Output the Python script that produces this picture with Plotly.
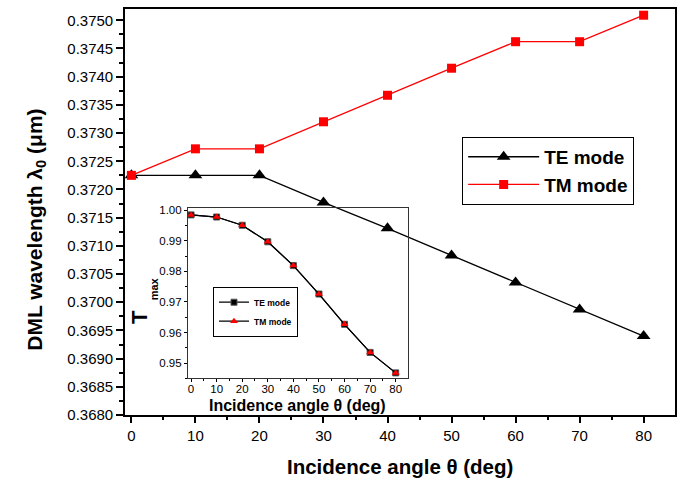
import plotly.graph_objects as go

# Incidence angles (deg)
angles = [0, 10, 20, 30, 40, 50, 60, 70, 80]

# DML wavelength lambda_0 (um) for each polarisation
te_wavelength = [0.37225, 0.37225, 0.37225, 0.37177, 0.37131, 0.37083, 0.37035, 0.36987, 0.36940]
tm_wavelength = [0.37225, 0.37272, 0.37272, 0.37320, 0.37367, 0.37415, 0.37462, 0.37462, 0.37509]

# Peak transmission T_max (identical for TE and TM)
te_tmax = [0.9985, 0.9978, 0.9951, 0.9897, 0.9819, 0.9726, 0.9627, 0.9535, 0.9468]
tm_tmax = [0.9985, 0.9978, 0.9951, 0.9897, 0.9819, 0.9726, 0.9627, 0.9535, 0.9468]

FONT = "Liberation Sans, Arial, sans-serif"

fig = go.Figure()

# Main panel
fig.add_trace(go.Scatter(
    x=angles, y=te_wavelength, mode="lines+markers", name="TE mode",
    line=dict(color="black", width=1.3),
    marker=dict(symbol="triangle-up", size=12, color="black"),
    xaxis="x", yaxis="y", legend="legend",
))
fig.add_trace(go.Scatter(
    x=angles, y=tm_wavelength, mode="lines+markers", name="TM mode",
    line=dict(color="red", width=1.3),
    marker=dict(symbol="square", size=9, color="red"),
    xaxis="x", yaxis="y", legend="legend",
))

# Inset panel
fig.add_trace(go.Scatter(
    x=angles, y=te_tmax, mode="lines+markers", name="TE mode",
    line=dict(color="black", width=1.2),
    marker=dict(symbol="square", size=6, color="black",
                line=dict(color="#555555", width=1)),
    xaxis="x2", yaxis="y2", legend="legend2",
))
fig.add_trace(go.Scatter(
    x=angles, y=tm_tmax, mode="lines+markers", name="TM mode",
    line=dict(color="black", width=1.2),
    marker=dict(symbol="triangle-up", size=7, color="red"),
    xaxis="x2", yaxis="y2", legend="legend2",
))

axis_common = dict(
    showline=True, mirror=True, showgrid=False,
    zeroline=False, ticks="outside", tickcolor="black",
)

fig.update_layout(
    width=684, height=483,
    margin=dict(l=125, r=9, t=5, b=68),
    paper_bgcolor="white", plot_bgcolor="rgba(0,0,0,0)",
    font=dict(family=FONT, color="black"),
    xaxis=dict(
        **axis_common, linecolor="black", linewidth=1.6, range=[-1.0, 84.9],
        tickmode="linear", tick0=0, dtick=10, ticklen=6, tickwidth=1.5,
        minor=dict(ticks="outside", dtick=5, ticklen=3, tickcolor="black", tickwidth=1.5),
        tickfont=dict(size=15),
    ),
    yaxis=dict(
        **axis_common, linecolor="black", linewidth=1.6, range=[0.3680, 0.3752],
        tickmode="linear", tick0=0.3680, dtick=0.0005, tickformat=".4f",
        ticklen=7, tickwidth=1.5,
        minor=dict(ticks="outside", dtick=0.00025, ticklen=4, tickcolor="black", tickwidth=1.5),
        tickfont=dict(size=15),
    ),
    xaxis2=dict(
        **axis_common, linewidth=1, linecolor="#333333", domain=[0.1145, 0.5145], anchor="y2",
        range=[-1.2, 84.8], tickmode="linear", tick0=0, dtick=10,
        ticklen=3, tickwidth=1, ticklabelstandoff=-3,
        minor=dict(ticks="outside", dtick=5, ticklen=2, tickcolor="black"),
        tickfont=dict(size=11.5),
    ),
    yaxis2=dict(
        **axis_common, linewidth=1, linecolor="#333333", domain=[0.0902, 0.5098], anchor="x2",
        range=[0.945, 1.00075], tickmode="linear", tick0=0.95, dtick=0.01,
        tickformat=".2f", ticklen=3, tickwidth=1,
        minor=dict(ticks="outside", dtick=0.005, ticklen=2, tickcolor="black"),
        tickfont=dict(size=11.5),
    ),
    legend=dict(
        x=0.613, y=0.685, xanchor="left", yanchor="top",
        bgcolor="white", bordercolor="black", borderwidth=1,
        font=dict(size=19, family=FONT, weight="bold"),
        itemwidth=71, tracegroupgap=0,
    ),
    legend2=dict(
        x=0.16, y=0.316, xanchor="left", yanchor="top",
        bgcolor="white", bordercolor="black", borderwidth=1,
        font=dict(size=8.5, family=FONT, weight="bold"),
        itemwidth=30, tracegroupgap=0,
    ),
    showlegend=True,
)

annotations = [
    dict(text="<b>Incidence angle θ (deg)</b>", x=0.5, y=-0.127,
         xref="paper", yref="paper", xanchor="center", yanchor="middle",
         showarrow=False, font=dict(size=20.5)),
    dict(text="<b>DML wavelength λ<sub>0</sub> (μm)</b>", x=-0.162, y=0.456,
         xref="paper", yref="paper", xanchor="center", yanchor="middle",
         textangle=-90, showarrow=False, font=dict(size=21)),
    dict(text="<b>Incidence angle θ (deg)</b>", x=0.3145, y=0.0222,
         xref="paper", yref="paper", xanchor="center", yanchor="middle",
         showarrow=False, font=dict(size=16)),
    dict(text="<b>T</b>", x=0.0273, y=0.2415,
         xref="paper", yref="paper", xanchor="center", yanchor="middle",
         textangle=-90, showarrow=False, font=dict(size=22)),
    dict(text="<b>max</b>", x=0.0527, y=0.312,
         xref="paper", yref="paper", xanchor="center", yanchor="middle",
         textangle=-90, showarrow=False, font=dict(size=11)),
]
fig.update_layout(annotations=annotations)

fig.write_html("out.html")
